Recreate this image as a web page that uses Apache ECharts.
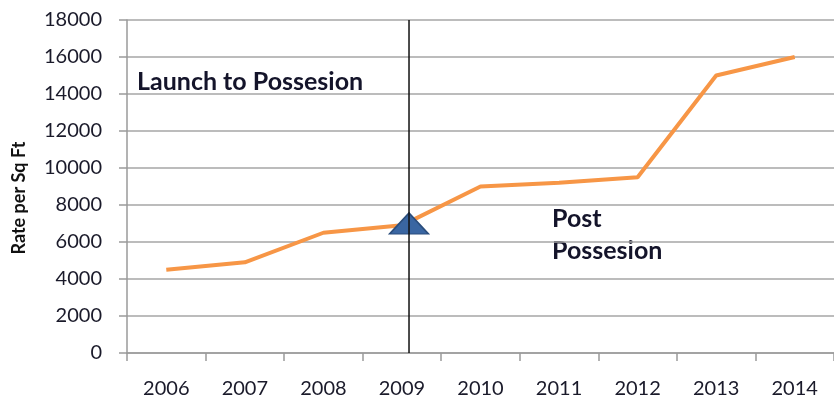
<!DOCTYPE html>
<html>
<head>
<meta charset="utf-8">
<script src="https://cdn.jsdelivr.net/npm/echarts@6/dist/echarts.min.js"></script>
<style>html,body{margin:0;padding:0;background:#fff}#c{width:834px;height:404px}</style>
</head>
<body>
<div id="c"></div>
<script>
var years = ['2006','2007','2008','2009','2010','2011','2012','2013','2014'];
var rates = [4500, 4900, 6500, 6900, 9000, 9200, 9500, 15000, 16000];
var yTicks = [0, 2000, 4000, 6000, 8000, 10000, 12000, 14000, 16000, 18000];
var dividerPos = 3.59;      // position in category units from left edge
var markerValue = 7000;
var yTitle = 'Rate per Sq Ft';
var leftNote = 'Launch to Possesion';
var rightNote = ['Post', 'Possesion'];

var chart = echarts.init(document.getElementById('c'));
var fontFam = 'Lato, "Open Sans", sans-serif';
chart.setOption({
  animation: false,
  grid: { left: 127, right: -6, top: 20, bottom: 51 },
  xAxis: [{
    type: 'category',
    data: years,
    boundaryGap: true,
    axisLine: { lineStyle: { color: '#9a9a9a', width: 1.5 } },
    axisTick: { show: true, length: 8, lineStyle: { color: '#9a9a9a', width: 1.5 } },
    axisLabel: { color: '#1a1a2a', fontSize: 20, margin: 26, fontFamily: fontFam },
    splitLine: { show: false }
  }, {
    type: 'value', min: 0, max: years.length, show: false
  }],
  yAxis: {
    type: 'value', min: yTicks[0], max: yTicks[yTicks.length - 1], interval: 2000,
    axisLine: { show: true, lineStyle: { color: '#9a9a9a', width: 1.5 } },
    axisTick: { show: true, length: 8, lineStyle: { color: '#9a9a9a', width: 1.5 } },
    axisLabel: { color: '#1a1a2a', fontSize: 20, margin: 25, fontFamily: fontFam,
                 formatter: function (v) { return String(v); } },
    splitLine: { lineStyle: { color: '#a6a6a6', width: 1.5 } }
  },
  series: [{
    type: 'line',
    data: rates,
    symbol: 'none',
    lineStyle: { color: '#f79646', width: 4 },
    z: 3
  }, {
    type: 'scatter',
    xAxisIndex: 1,
    data: [[dividerPos, markerValue]],
    symbol: 'triangle',
    symbolSize: [39, 21],
    itemStyle: { color: '#3a66a2', borderColor: '#2a4d7c', borderWidth: 1.5, opacity: 1 },
    z: 4
  }, {
    type: 'line',
    xAxisIndex: 1,
    data: [[dividerPos, 0], [dividerPos, 18000]],
    symbol: 'none',
    lineStyle: { color: '#111', width: 1.5 },
    z: 5
  }],
  graphic: [{
    type: 'text', left: 137, top: 69,
    style: { text: leftNote, font: 'bold 25px ' + fontFam, fill: '#14142a' }
  }, {
    type: 'text', left: 552, top: 203,
    style: { text: rightNote.join('\n'), font: 'bold 25px ' + fontFam, fill: '#14142a', lineHeight: 32 }
  }, {
    type: 'text', x: 19, y: 198, rotation: Math.PI / 2,
    style: { text: yTitle, font: 'bold 18px ' + fontFam, fill: '#111', align: 'center', verticalAlign: 'middle' }
  }]
});
</script>
</body>
</html>
